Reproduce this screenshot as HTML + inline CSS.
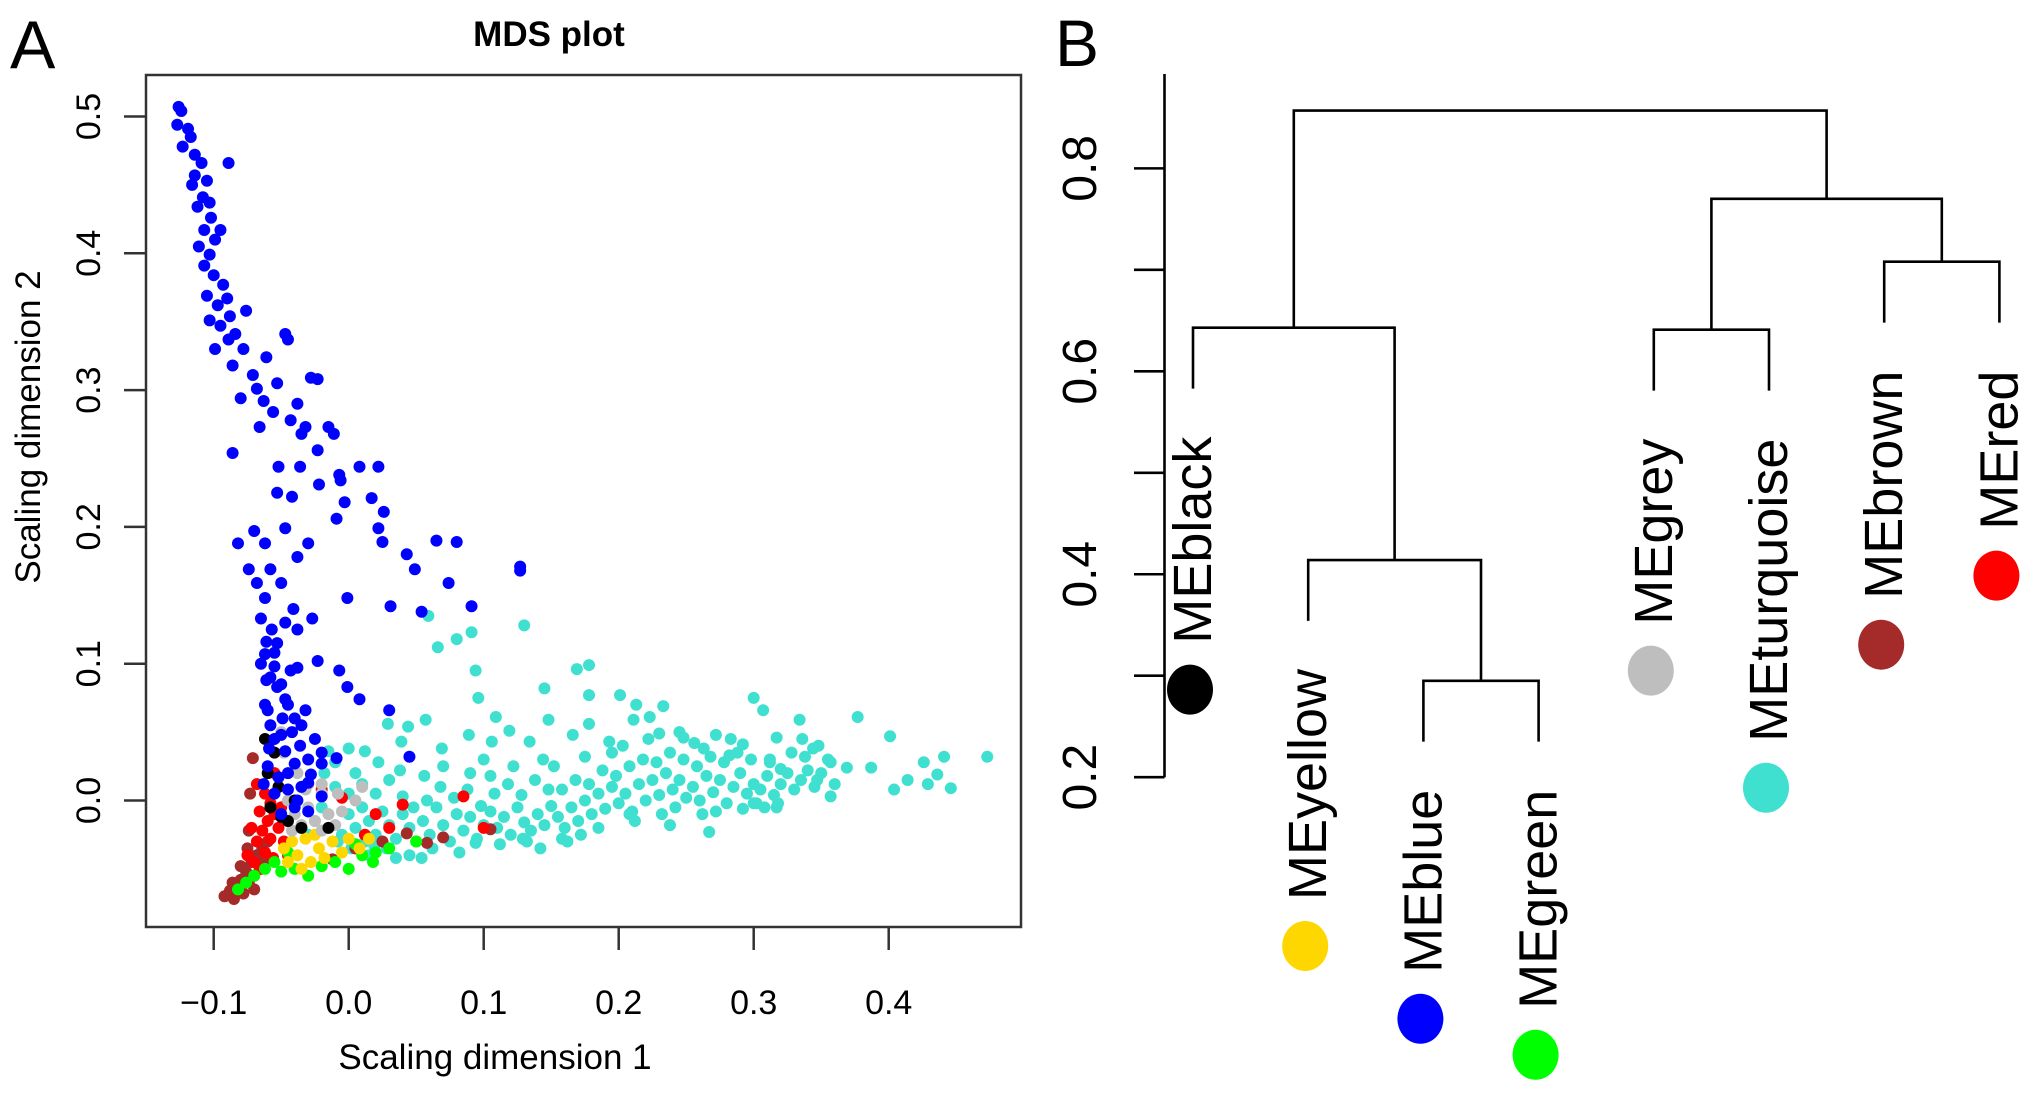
<!DOCTYPE html>
<html><head><meta charset="utf-8"><style>
html,body{margin:0;padding:0;background:#fff;}
svg{display:block;font-family:"Liberation Sans",sans-serif;}
</style></head><body>
<svg id="fig" width="2031" height="1097" viewBox="0 0 2031 1097">
<text x="10" y="68" font-size="68">A</text>
<text x="549" y="46" font-size="35" font-weight="bold" text-anchor="middle">MDS plot</text>
<g id="mdsPoints"></g>
<rect x="146" y="75" width="875" height="852" fill="none" stroke="#333" stroke-width="2.5"/>
<g id="mdsAxes"></g>
<text x="495" y="1069" font-size="35" text-anchor="middle">Scaling dimension 1</text>
<text transform="translate(40,427) rotate(-90)" font-size="35" text-anchor="middle">Scaling dimension 2</text>
<text x="1055" y="66" font-size="66">B</text>
<g id="dendro"></g>
</svg>
<script>
// ---------- Panel A data ----------
const xTicks = [-0.1, 0.0, 0.1, 0.2, 0.3, 0.4];
const xTickLabels = ["\u22120.1", "0.0", "0.1", "0.2", "0.3", "0.4"];
const yTicks = [0.0, 0.1, 0.2, 0.3, 0.4, 0.5];
const yTickLabels = ["0.0", "0.1", "0.2", "0.3", "0.4", "0.5"];

const turquoisePts = [
[0.059,0.135],[0.066,0.112],[0.080,0.118],[0.091,0.123],[0.094,0.095],[0.130,0.128],[0.096,0.075],[0.109,0.061],[0.145,0.082],[0.169,0.096],[0.178,0.099],[0.178,0.077],[0.201,0.077],[0.213,0.070],[0.223,0.061],[0.233,0.069],[0.300,0.075],[0.307,0.066],[0.334,0.059],[0.377,0.061],[0.401,0.047],[0.473,0.032],[0.446,0.009],[0.441,0.032],[0.426,0.028],[0.436,0.019],[0.429,0.012],[0.414,0.015],[0.404,0.008],[0.387,0.024],[0.369,0.024],[0.357,0.028],[0.347,0.015],[0.357,0.003],[0.344,0.038],[0.317,0.046],[0.320,0.023],[0.317,-0.005],[0.302,-0.002],[0.267,-0.023],[0.238,-0.018],[0.208,-0.010],[0.158,-0.028],[0.129,-0.028],[0.094,-0.031],[0.054,-0.042],[0.019,-0.033],[-0.010,0.028],[-0.015,0.036],[0.0,0.038],[0.012,0.036],[0.029,0.056],[0.044,0.054],[0.057,0.059],[0.039,0.043],[0.069,0.038],[0.089,0.048],[0.106,0.043],[0.119,0.051],[0.134,0.043],[0.148,0.059],[0.166,0.048],[0.178,0.056],[0.193,0.043],[0.211,0.059],[0.230,0.049],[0.248,0.046],[0.263,0.038],[0.272,0.048],[0.282,0.033],[0.292,0.041],[0.312,0.028],
[0.0,-0.01],[0.005,-0.02],[0.01,-0.005],[0.015,-0.015],[0.02,-0.025],[0.025,-0.008],[0.03,-0.018],[0.035,-0.028],[0.04,-0.01],[0.045,-0.02],[0.05,-0.03],[0.0,0.005],[0.01,0.012],[0.02,0.005],[0.03,0.015],[0.04,0.003],[0.048,-0.005],[-0.005,-0.025],[0.012,-0.03],[0.028,-0.035],[0.038,0.022],[0.022,0.028],[0.005,0.02],
[0.055,-0.015],[0.06,-0.025],[0.065,-0.005],[0.07,-0.018],[0.075,-0.03],[0.08,-0.01],[0.085,-0.022],[0.09,-0.012],[0.095,-0.028],[0.1,-0.018],[0.058,0.0],[0.068,0.01],[0.078,0.002],[0.088,0.008],[0.098,-0.004],[0.062,-0.035],[0.082,-0.038],[0.07,0.025],[0.09,0.02],[0.056,0.018],[0.1,0.03],
[0.105,-0.008],[0.11,-0.02],[0.115,-0.012],[0.12,-0.025],[0.125,-0.005],[0.13,-0.016],[0.135,-0.022],[0.14,-0.01],[0.145,-0.018],[0.15,-0.004],[0.108,0.005],[0.118,0.012],[0.128,0.004],[0.138,0.015],[0.148,0.008],[0.112,-0.032],[0.132,-0.03],[0.142,-0.035],[0.122,0.025],[0.144,0.03],[0.105,0.018],
[0.155,-0.012],[0.16,-0.02],[0.165,-0.005],[0.17,-0.015],[0.175,0.0],[0.18,-0.01],[0.185,0.005],[0.19,-0.006],[0.195,0.01],[0.2,-0.002],[0.158,0.008],[0.168,0.015],[0.178,0.012],[0.188,0.022],[0.198,0.018],[0.162,-0.03],[0.172,-0.025],[0.185,-0.02],[0.152,0.025],[0.175,0.032],[0.195,0.035],
[0.205,0.005],[0.21,-0.008],[0.215,0.012],[0.22,0.0],[0.225,0.015],[0.23,0.004],[0.235,0.02],[0.24,0.008],[0.245,0.015],[0.25,0.002],[0.208,0.025],[0.218,0.03],[0.228,0.028],[0.238,0.035],[0.248,0.03],[0.212,-0.015],[0.232,-0.01],[0.242,-0.005],[0.222,0.045],[0.245,0.05],[0.203,0.04],
[0.255,0.01],[0.26,0.0],[0.265,0.018],[0.27,0.006],[0.275,0.015],[0.28,-0.002],[0.285,0.01],[0.29,0.02],[0.295,0.005],[0.3,0.012],[0.258,0.025],[0.268,0.032],[0.278,0.028],[0.288,0.035],[0.298,0.03],[0.262,-0.01],[0.272,-0.008],[0.292,-0.006],[0.256,0.042],[0.283,0.045],[0.3,-0.002],
[0.305,0.008],[0.31,0.018],[0.315,0.004],[0.32,0.012],[0.325,0.02],[0.33,0.008],[0.335,0.015],[0.34,0.022],[0.345,0.01],[0.35,0.02],[0.355,0.03],[0.312,0.03],[0.328,0.035],[0.338,0.032],[0.308,-0.005],[0.318,-0.002],[0.336,0.045],[0.348,0.04],[0.36,0.012],
[-0.02,-0.005],[-0.015,-0.02],[-0.01,0.01],[-0.008,-0.03],[-0.025,-0.015],[-0.018,0.02],[0.002,-0.035],[0.015,-0.04],[0.035,-0.042],[0.045,-0.04],[-0.03,-0.025]
];
const brownPts = [
[-0.092,-0.07],[-0.088,-0.066],[-0.085,-0.072],[-0.082,-0.062],[-0.078,-0.068],[-0.08,-0.058],[-0.076,-0.052],[-0.074,-0.06],[-0.072,-0.045],[-0.07,-0.055],[-0.068,-0.04],[-0.066,-0.05],[-0.064,-0.035],[-0.062,-0.045],[-0.06,-0.03],[-0.075,-0.035],[-0.086,-0.06],[-0.07,-0.065],[-0.08,-0.048],[-0.071,0.031],[-0.073,0.005],[-0.074,-0.022],[0.043,-0.024],[0.105,-0.021],[0.058,-0.031],[-0.012,-0.043],[0.07,-0.027],[0.025,-0.03],[0.005,-0.035]
];
const redPts = [
[-0.068,0.012],[-0.062,0.005],[-0.058,-0.002],[-0.066,-0.008],[-0.06,-0.015],[-0.055,-0.01],[-0.064,-0.022],[-0.058,-0.028],[-0.068,-0.03],[-0.062,-0.038],[-0.056,-0.042],[-0.07,-0.045],[-0.065,-0.05],[-0.052,-0.02],[-0.05,-0.005],[-0.072,-0.02],[-0.055,0.02],[-0.048,-0.03],[-0.075,-0.04],[0.085,0.003],[0.04,-0.003],[0.012,-0.025],[0.02,-0.01],[-0.005,0.002],[0.1,-0.02],[-0.03,0.012],[-0.02,0.008],[-0.045,-0.04],[0.03,-0.02]
];
const greenPts = [
[-0.082,-0.065],[-0.076,-0.06],[-0.07,-0.055],[-0.062,-0.05],[-0.055,-0.045],[-0.05,-0.052],[-0.04,-0.05],[-0.03,-0.055],[-0.02,-0.048],[-0.01,-0.045],[0.0,-0.05],[0.01,-0.04],[0.02,-0.038],[0.03,-0.035],[0.018,-0.045],[-0.045,-0.038],[0.005,-0.032],[0.05,-0.03]
];
const yellowPts = [
[-0.048,-0.035],[-0.042,-0.03],[-0.038,-0.04],[-0.032,-0.028],[-0.028,-0.045],[-0.022,-0.035],[-0.018,-0.042],[-0.012,-0.03],[-0.005,-0.038],[0.0,-0.028],[-0.035,-0.05],[-0.045,-0.045],[0.008,-0.035],[-0.025,-0.025],[0.015,-0.028]
];
const greyPts = [
[-0.045,0.0],[-0.04,-0.01],[-0.035,-0.018],[-0.03,-0.005],[-0.025,-0.015],[-0.02,-0.022],[-0.015,-0.01],[-0.01,-0.018],[-0.005,-0.008],[-0.042,-0.022],[-0.032,0.008],[-0.02,0.005],[0.005,0.0],[-0.05,0.05],[-0.048,0.035],[-0.03,0.012],[-0.038,0.02],[-0.008,0.005],[0.01,0.01],[-0.02,0.012],[-0.055,0.045]
];
const blackPts = [
[-0.055,0.035],[-0.06,0.02],[-0.052,0.01],[-0.058,-0.005],[-0.05,-0.012],[-0.045,-0.015],[-0.062,0.045],[-0.035,-0.02],[-0.015,-0.02],[-0.04,0.0]
];
const bluePts = [
[-0.126,0.507],[-0.124,0.504],[-0.127,0.494],[-0.119,0.491],[-0.117,0.485],[-0.123,0.478],[-0.114,0.472],[-0.109,0.466],[-0.114,0.457],[-0.116,0.450],[-0.105,0.453],[-0.108,0.441],[-0.112,0.434],[-0.103,0.437],[-0.089,0.466],[-0.102,0.426],[-0.107,0.417],[-0.099,0.410],[-0.095,0.417],[-0.111,0.405],[-0.103,0.399],[-0.107,0.391],[-0.100,0.384],[-0.093,0.377],[-0.105,0.369],[-0.097,0.362],[-0.090,0.367],[-0.088,0.354],[-0.095,0.347],[-0.084,0.341],[-0.103,0.351],[-0.076,0.358],[-0.089,0.337],[-0.078,0.330],[-0.099,0.330],[-0.086,0.318],[-0.071,0.311],[-0.061,0.324],[-0.045,0.337],[-0.047,0.341],[-0.068,0.301],[-0.063,0.292],[-0.080,0.294],[-0.053,0.305],[-0.028,0.309],[-0.023,0.308],[-0.038,0.290],[-0.056,0.284],[-0.043,0.278],[-0.032,0.273],[-0.015,0.273],[-0.011,0.268],[-0.023,0.256],[-0.066,0.273],[-0.086,0.254],[-0.052,0.244],[-0.036,0.244],[-0.022,0.231],[-0.007,0.238],[-0.006,0.234],[-0.003,0.218],[-0.009,0.206],[0.008,0.244],[0.022,0.244],[0.017,0.221],[0.026,0.211],[0.022,0.199],[0.025,0.189],[0.043,0.180],[0.049,0.169],[0.065,0.190],[0.080,0.189],[0.074,0.159],[0.091,0.142],[0.127,0.171],[0.127,0.168],[0.054,0.138],[0.031,0.142],[-0.001,0.148],[-0.070,0.197],[-0.062,0.188],[-0.047,0.199],[-0.038,0.178],[-0.030,0.188],[-0.082,0.188],[-0.074,0.169],[-0.068,0.159],[-0.062,0.148],[-0.065,0.133],[-0.061,0.116],[-0.055,0.108],[-0.061,0.088],[-0.038,0.097],[-0.007,0.095],[-0.001,0.083],[0.008,0.074],[0.030,0.066],[0.045,0.032],[-0.009,0.031],[-0.047,0.074],[-0.049,0.060],[-0.042,0.050],[-0.055,0.045],[-0.059,0.038],[-0.047,0.036],[-0.040,0.027],[-0.052,0.017],[-0.035,0.055],[-0.028,0.019],[-0.045,0.008],[-0.030,0.013],[-0.020,0.027],[-0.032,0.066],[-0.053,0.083],[-0.060,0.066],[-0.038,0.000],[-0.020,0.003],
[-0.035,0.268],[-0.053,0.225],[-0.042,0.222],[-0.050,0.159],[-0.058,0.169],[-0.041,0.140],[-0.027,0.133],[-0.062,0.107],[-0.038,0.125],[-0.023,0.102],[-0.055,0.098],
[-0.058,0.09],[-0.05,0.085],[-0.045,0.07],[-0.058,0.055],[-0.05,0.048],[-0.036,0.04],[-0.06,0.025],[-0.045,0.02],[-0.035,0.01],[-0.055,0.005],[-0.04,-0.005],[-0.05,-0.01],[-0.03,-0.008],[-0.062,0.07],[-0.043,0.095],[-0.053,0.115],[-0.047,0.13],[-0.057,0.125],[-0.065,0.1],[-0.04,0.06],[-0.025,0.045],[-0.02,0.035],[-0.03,0.03],[-0.063,0.012]
];

// ---------- Panel B data ----------
const leafNames = ["MEblack","MEyellow","MEblue","MEgreen","MEgrey","MEturquoise","MEbrown","MEred"];
const leafColors = ["#000000","#FFD700","#0000FF","#00FF00","#BEBEBE","#40E0D0","#A52A2A","#FF0000"];
const mergeLeft  = [2, 1, 0, 4, 6, 11, 10];
const mergeRight = [3, 8, 9, 5, 7, 12, 13];
const mergeHeights = [0.295, 0.414, 0.643, 0.641, 0.708, 0.770, 0.857];
const leafHang = 0.06;
const dTicks = [0.2, 0.3, 0.4, 0.5, 0.6, 0.7, 0.8];
const dTickLabels = ["0.2", "", "0.4", "", "0.6", "", "0.8"];

const NS = "http://www.w3.org/2000/svg";
function mk(tag, attrs, parent){ const e=document.createElementNS(NS,tag); for(const k in attrs) e.setAttribute(k,attrs[k]); parent.appendChild(e); return e; }

const xScale = v => 348.7 + v*1350;
const yScale = v => 800.5 - v*1368;

const pts = document.getElementById('mdsPoints');
const series = [["turquoise",turquoisePts,"#40E0D0"],["brown",brownPts,"#A52A2A"],["red",redPts,"#FF0000"],["green",greenPts,"#00FF00"],["yellow",yellowPts,"#FFD700"],["grey",greyPts,"#BEBEBE"],["black",blackPts,"#000000"],["blue",bluePts,"#0000FF"]];
series.forEach(s=>{
  s[1].forEach(p=>{
    const c = mk('circle',{cx:xScale(p[0]),cy:yScale(p[1]),r:6,fill:s[2]},pts);
    
    
  });
});

const ax = document.getElementById('mdsAxes');
xTicks.forEach((t,i)=>{
  const x = xScale(t);
  const l = mk('line',{x1:x,y1:927,x2:x,y2:950,stroke:'#333','stroke-width':2.5},ax);
  
  
  const tx = mk('text',{x:x,y:1014,'font-size':34,'text-anchor':'middle'},ax);
  tx.textContent = xTickLabels[i];
  
  
});
yTicks.forEach((t,i)=>{
  const y = yScale(t);
  const l = mk('line',{x1:124,y1:y,x2:146,y2:y,stroke:'#333','stroke-width':2.5},ax);
  
  
  const tx = mk('text',{transform:`translate(100,${y}) rotate(-90)`,'font-size':34,'text-anchor':'middle'},ax);
  tx.textContent = yTickLabels[i];
  
  
});

const dg = document.getElementById('dendro');
const dY = v => 777.2 - (v-0.2)*1014.7;
const leafX = i => 1193 + i*115.2;
const nodeX = [], nodeH = [];
leafNames.forEach((n,i)=>{ nodeX[i]=leafX(i); nodeH[i]=null; });
const parentH = [];
mergeLeft.forEach((l,k)=>{
  const id = leafNames.length + k;
  const r = mergeRight[k], h = mergeHeights[k];
  nodeX[id] = (nodeX[l]+nodeX[r])/2; nodeH[id]=h;
  parentH[l]=h; parentH[r]=h;
});
mergeLeft.forEach((l,k)=>{
  const r = mergeRight[k], h = mergeHeights[k];
  const bottom = c => c < leafNames.length ? parentH[c]-leafHang : nodeH[c];
  const path = `M${nodeX[l]},${dY(bottom(l))} V${dY(h)} H${nodeX[r]} V${dY(bottom(r))}`;
  const p = mk('path',{d:path,fill:'none',stroke:'#000','stroke-width':2.6},dg);
  
  
});
leafNames.forEach((n,i)=>{
  const x = leafX(i);
  const yEnd = dY(parentH[i]-leafHang) + 48;
  const t = mk('text',{transform:`translate(${x+18},${yEnd}) rotate(-90)`,'font-size':54,'text-anchor':'end'},dg);
  t.textContent = n;
  
  
  const len = t.getComputedTextLength();
  const e = mk('ellipse',{cx:x-3,cy:yEnd+len+46,rx:23,ry:25,fill:leafColors[i]},dg);
  
  
});
const axl = mk('line',{x1:1164.5,y1:74,x2:1164.5,y2:dY(0.2),stroke:'#000','stroke-width':2.6},dg);


dTicks.forEach((t,i)=>{
  const y = dY(t);
  const l = mk('line',{x1:1134,y1:y,x2:1164.5,y2:y,stroke:'#000','stroke-width':2.6},dg);
  
  
  if (dTickLabels[i]) {
    const tx = mk('text',{transform:`translate(1096,${y}) rotate(-90)`,'font-size':48,'text-anchor':'middle'},dg);
    tx.textContent = dTickLabels[i];
    
    
  }
});
</script>
</body></html>
